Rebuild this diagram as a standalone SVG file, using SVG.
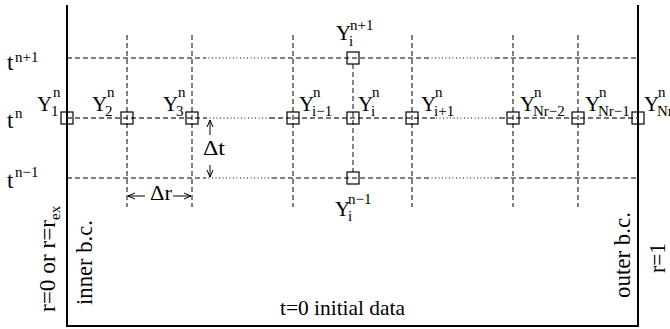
<svg xmlns="http://www.w3.org/2000/svg" width="670" height="329" viewBox="0 0 670 329">
<style>
text{font-family:"Liberation Serif","Times New Roman",serif;fill:#000}
.m{font-size:21px}
.t{font-size:23px}
.s{font-size:15px}
.r{font-size:24px}
.frame{stroke:#000;stroke-width:2;fill:none}
.da{stroke:#000;stroke-width:1;stroke-dasharray:5 3;fill:none}
.dg{stroke:#444;stroke-width:1.3;stroke-dasharray:5 3;fill:none}
.dt{stroke:#000;stroke-width:1;stroke-dasharray:1 2.5;fill:none}
.box{stroke:#000;stroke-width:1.2;fill:none}
.ar{stroke:#000;stroke-width:1;fill:none;marker-end:url(#ah)}
</style>
<defs>
<marker id="ah" viewBox="0 0 8 8" refX="7" refY="4" markerWidth="8" markerHeight="8" markerUnits="userSpaceOnUse" orient="auto">
<path d="M0,1 L7,4 L0,7" fill="none" stroke="#000" stroke-width="1"/>
</marker>
</defs>
<g id="connectors">
<path class="frame" d="M67,5 V326 H638 V5"/>
<path class="da" d="M67,58 H205 M272,58 H428 M495,58 H638"/>
<path class="dt" d="M205,58 H272 M428,58 H495"/>
<path class="dg" d="M67,118 H206 M270,118 H436 M500,118 H638"/>
<path class="dt" d="M206,118 H270 M436,118 H500"/>
<path class="da" d="M67,178 H205 M272,178 H428 M495,178 H638"/>
<path class="dt" d="M205,178 H272 M428,178 H495"/>
<path class="da" d="M127,35 V207 M192,35 V207 M293,35 V207 M412,35 V207 M513,35 V207 M578,35 V207"/>
<path class="dg" d="M353,64 V172"/>
<path class="ar" d="M210,135 V120"/>
<path class="ar" d="M210,165 V177"/>
<path class="ar" d="M145,196 H128"/>
<path class="ar" d="M173,196 H191"/>
</g>
<g id="axis-labels">
<text class="t" x="7" y="70">t<tspan class="s" x="15" y="62">n+1</tspan></text>
<text class="t" x="7" y="128">t<tspan class="s" x="15" y="118">n</tspan></text>
<text class="t" x="7" y="188">t<tspan class="s" x="15" y="177">n−1</tspan></text>
<text class="m" x="203" y="155" textLength="22" lengthAdjust="spacingAndGlyphs">Δt</text>
<text class="m" x="150" y="200" textLength="22" lengthAdjust="spacingAndGlyphs">Δr</text>
<text class="m" x="280" y="315" textLength="125" lengthAdjust="spacingAndGlyphs">t=0 initial data</text>
<text class="r" transform="translate(55,312) rotate(-90)"><tspan textLength="92" lengthAdjust="spacingAndGlyphs">r=0 or r=r</tspan><tspan class="s" dy="5">ex</tspan></text>
<text class="r" transform="translate(92,305) rotate(-90)" textLength="85" lengthAdjust="spacingAndGlyphs">inner b.c.</text>
<text class="r" transform="translate(630,298) rotate(-90)" textLength="86" lengthAdjust="spacingAndGlyphs">outer b.c.</text>
<text class="r" transform="translate(665,273) rotate(-90)" textLength="30" lengthAdjust="spacingAndGlyphs">r=1</text>
</g>
<g id="node-Y1"><rect class="box" x="61" y="112" width="12" height="12"/><text class="m" x="37" y="111">Y<tspan class="s" x="53" y="97">n</tspan><tspan class="s" x="51" y="116">1</tspan></text></g>
<g id="node-Y2"><rect class="box" x="121" y="112" width="12" height="12"/><text class="m" x="92" y="111">Y<tspan class="s" x="107" y="97">n</tspan><tspan class="s" x="105" y="116">2</tspan></text></g>
<g id="node-Y3"><rect class="box" x="186" y="112" width="12" height="12"/><text class="m" x="163" y="111">Y<tspan class="s" x="178" y="97">n</tspan><tspan class="s" x="176" y="116">3</tspan></text></g>
<g id="node-Yim1"><rect class="box" x="287" y="112" width="12" height="12"/><text class="m" x="299" y="111">Y<tspan class="s" x="313" y="97">n</tspan><tspan class="s" x="312" y="116">i−1</tspan></text></g>
<g id="node-Yi"><rect class="box" x="347" y="112" width="12" height="12"/><text class="m" x="358" y="111">Y<tspan class="s" x="372" y="97">n</tspan><tspan class="s" x="371" y="116">i</tspan></text></g>
<g id="node-Yip1"><rect class="box" x="406" y="112" width="12" height="12"/><text class="m" x="421" y="111">Y<tspan class="s" x="435" y="97">n</tspan><tspan class="s" x="434" y="116">i+1</tspan></text></g>
<g id="node-YNrm2"><rect class="box" x="507" y="112" width="12" height="12"/><text class="m" x="520" y="111">Y<tspan class="s" x="534" y="97">n</tspan><tspan class="s" x="533" y="116">Nr−2</tspan></text></g>
<g id="node-YNrm1"><rect class="box" x="572" y="112" width="12" height="12"/><text class="m" x="585" y="111">Y<tspan class="s" x="599" y="97">n</tspan><tspan class="s" x="598" y="116">Nr−1</tspan></text></g>
<g id="node-YNr"><rect class="box" x="632" y="112" width="12" height="12"/><text class="m" x="644" y="111">Y<tspan class="s" x="658" y="97">n</tspan><tspan class="s" x="657" y="116">Nr</tspan></text></g>
<g id="node-Yi-np1"><rect class="box" x="347" y="52" width="12" height="12"/><text class="m" x="336" y="40">Y<tspan class="s" x="350" y="30">n+1</tspan><tspan class="s" x="349" y="46">i</tspan></text></g>
<g id="node-Yi-nm1"><rect class="box" x="347" y="172" width="12" height="12"/><text class="m" x="335" y="216">Y<tspan class="s" x="348" y="204">n−1</tspan><tspan class="s" x="348" y="221">i</tspan></text></g>
</svg>
